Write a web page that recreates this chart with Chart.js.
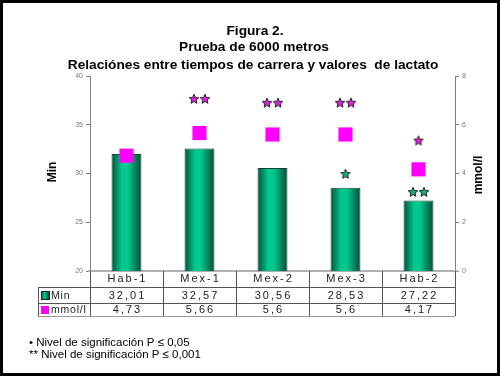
<!DOCTYPE html>
<html>
<head>
<meta charset="utf-8">
<script src="https://cdn.jsdelivr.net/npm/chart.js@4"></script>
<style>
    html, body { margin: 0; padding: 0; background: #fff; }
    canvas { display: block; }
</style>
</head>
<body>
<canvas id="lactato" width="500" height="376"></canvas>
<script>
// datos de la figura
const categorias = ["Hab-1", "Mex-1", "Mex-2", "Mex-3", "Hab-2"];
const tiempos = [32.01, 32.57, 30.56, 28.53, 27.22]; // Min
const lactato = [4.73, 5.66, 5.6, 5.6, 4.17]; // mmol/l
const tiemposTexto = ["32,01", "32,57", "30,56", "28,53", "27,22"];
const lactatoTexto = ["4,73", "5,66", "5,6", "5,6", "4,17"];
const ticksMin = [20, 25, 30, 35, 40];
const ticksMmol = [0, 2, 4, 6, 8];
// marcas de significacion (posicion estimada en la figura)
const sigLactato = [null, 7.06, 6.9, 6.9, 5.35];
const sigLactatoMarcas = ["", "**", "**", "**", "*"];
const sigTiempo = [null, null, null, 29.95, 28.1];
const sigTiempoMarcas = ["", "", "", "*", "**"];

const FONT = "'Liberation Sans', Arial, sans-serif";

// dibuja una o dos estrellas en un canvas pequeno para usar como pointStyle
function estrella(color, n) {
    const c = document.createElement("canvas");
    if (!n) {
        c.width = 1;
        c.height = 1;
        return c;
    }
    const r = 5;
    c.width = n * 11 + 1;
    c.height = 12;
    const g = c.getContext("2d");
    for (let k = 0; k < n; k++) {
        const cx = 6 + k * 11, cy = 6.3;
        g.beginPath();
        for (let i = 0; i < 10; i++) {
            const a = -Math.PI / 2 + i * Math.PI / 5;
            const rr = i % 2 === 0 ? r : r * 0.45;
            const px = cx + rr * Math.cos(a), py = cy + rr * Math.sin(a);
            if (i === 0) g.moveTo(px, py); else g.lineTo(px, py);
        }
        g.closePath();
        g.fillStyle = color;
        g.fill();
        g.lineWidth = 1;
        g.strokeStyle = "#222";
        g.stroke();
    }
    return c;
}

const estrellasLactato = sigLactatoMarcas.map((m) => estrella("#e020e0", m.length));
const estrellasTiempo = sigTiempoMarcas.map((m) => estrella("#10b080", m.length));

function gradienteBarra(context) {
    const chart = context.chart;
    if (!chart.chartArea || !chart.scales.x) return "#00b07a";
    const x = chart.scales.x.getPixelForValue(context.dataIndex);
    const w = 15;
    const g = chart.ctx.createLinearGradient(x - w, 0, x + w, 0);
    g.addColorStop(0, "#0a4f38");
    g.addColorStop(0.35, "#00c88e");
    g.addColorStop(0.55, "#00c88e");
    g.addColorStop(1, "#0a4a35");
    return g;
}

const decorado = {
    id: "decorado",
    beforeDatasetsDraw(chart) {
        const ctx = chart.ctx;
        const ca = chart.chartArea;
        ctx.save();
        ctx.strokeStyle = "#b0b0b0";
        ctx.lineWidth = 2;
        ctx.beginPath();
        ctx.moveTo(ca.left - 2, ca.bottom);
        ctx.lineTo(ca.right + 3, ca.bottom);
        ctx.stroke();
        ctx.restore();
    },
    afterDraw(chart) {
        const ctx = chart.ctx;
        const ca = chart.chartArea;
        const xs = chart.scales.x;
        const colW = xs.getPixelForValue(1) - xs.getPixelForValue(0);
        ctx.save();

        // titulos
        ctx.fillStyle = "#000";
        ctx.textAlign = "center";
        ctx.textBaseline = "middle";
        ctx.font = "bold 13.7px " + FONT;
        ctx.fillText("Figura 2.", 255, 31);
        ctx.fillText("Prueba de 6000 metros", 254, 47);
        ctx.fillText("Relaciónes entre tiempos de carrera y valores  de lactato", 253, 65);

        // titulos de ejes
        ctx.font = "bold 12px " + FONT;
        ctx.save();
        ctx.translate(53, 172);
        ctx.rotate(-Math.PI / 2);
        ctx.fillText("Min", 0, 0);
        ctx.restore();
        ctx.save();
        ctx.translate(479, 175);
        ctx.rotate(-Math.PI / 2);
        ctx.fillText("mmol/l", 0, 0);
        ctx.restore();

        // tabla de datos
        const top = ca.bottom, r1 = 287, r2 = 303, r3 = 316;
        const left = 38;
        const right = xs.getPixelForValue(categorias.length - 1) + colW / 2;
        ctx.strokeStyle = "#555";
        ctx.lineWidth = 1;
        ctx.beginPath();
        [r1, r2].forEach((y) => {
            ctx.moveTo(left, y + 0.5);
            ctx.lineTo(right, y + 0.5);
        });
        ctx.moveTo(left + 0.5, r1);
        ctx.lineTo(left + 0.5, r3);
        for (let i = 0; i <= categorias.length; i++) {
            const x = Math.round(xs.getPixelForValue(0) - colW / 2 + i * colW) + 0.5;
            ctx.moveTo(x, top);
            ctx.lineTo(x, r3);
        }
        ctx.stroke();
        ctx.strokeStyle = "#999";
        ctx.beginPath();
        ctx.moveTo(left, r3 + 0.5);
        ctx.lineTo(right, r3 + 0.5);
        ctx.stroke();

        ctx.font = "11px " + FONT;
        ctx.fillStyle = "#222";
        ctx.letterSpacing = "2px";
        ctx.textAlign = "center";
        categorias.forEach((c, i) => {
            const x = xs.getPixelForValue(i) + 1;
            ctx.fillText(c, x, 279);
            ctx.fillText(tiemposTexto[i], x, 296);
            ctx.fillText(lactatoTexto[i], x, 310);
        });

        // claves de leyenda
        ctx.textAlign = "left";
        const kg = ctx.createLinearGradient(41, 0, 49, 0);
        kg.addColorStop(0, "#0a4f38");
        kg.addColorStop(0.45, "#00c88e");
        kg.addColorStop(1, "#0a4a35");
        ctx.fillStyle = kg;
        ctx.fillRect(41, 291, 8, 8);
        ctx.strokeStyle = "#222";
        ctx.strokeRect(41.5, 291.5, 8, 8);
        ctx.fillStyle = "#ff00ff";
        ctx.fillRect(41, 306, 8, 8);
        ctx.fillStyle = "#222";
        ctx.font = "10.5px " + FONT;
        ctx.letterSpacing = "0.8px";
        ctx.fillText("Min", 51, 296);
        ctx.fillText("mmol/l", 51, 310);

        // notas
        ctx.letterSpacing = "0px";
        ctx.font = "11.5px " + FONT;
        ctx.fillStyle = "#000";
        ctx.fillText("• Nivel de significación P ≤ 0,05", 29, 343);
        ctx.fillText("** Nivel de significación P ≤ 0,001", 29, 355);

        // marco
        ctx.strokeStyle = "#000";
        ctx.lineWidth = 3;
        ctx.strokeRect(1.5, 1.5, 497, 373);
        ctx.restore();
    },
};

const ctx = document.getElementById("lactato").getContext("2d");

new Chart(ctx, {
    data: {
        labels: categorias,
        datasets: [
            {
                type: "line",
                label: "mmol/l",
                data: lactato,
                yAxisID: "y1",
                showLine: false,
                pointStyle: "rect",
                pointRadius: 10,
                pointBackgroundColor: "#ff00ff",
                pointBorderColor: "#ff00ff",
                pointBorderWidth: 0,
                order: 1,
            },
            {
                type: "line",
                label: "sig lactato",
                data: sigLactato,
                yAxisID: "y1",
                showLine: false,
                pointStyle: estrellasLactato,
                order: 0,
            },
            {
                type: "line",
                label: "sig tiempo",
                data: sigTiempo,
                yAxisID: "y",
                showLine: false,
                pointStyle: estrellasTiempo,
                order: 0,
            },
            {
                type: "bar",
                label: "Min",
                data: tiempos,
                yAxisID: "y",
                backgroundColor: gradienteBarra,
                borderColor: "#0b4634",
                borderWidth: 1,
                barPercentage: 0.41,
                categoryPercentage: 1,
                order: 2,
            },
        ],
    },
    options: {
        responsive: false,
        animation: false,
        devicePixelRatio: 1,
        layout: {
            padding: { left: 0, right: 0, top: 76, bottom: 105 },
        },
        scales: {
            x: {
                display: false,
                offset: true,
            },
            y: {
                position: "left",
                min: 20,
                max: 40,
                afterFit: (scale) => { scale.width = 90; },
                afterBuildTicks: (scale) => { scale.ticks = ticksMin.map((v) => ({ value: v })); },
                grid: { drawOnChartArea: false, color: "#808080", tickLength: 4 },
                border: { color: "#808080" },
                ticks: { color: "#777", font: { family: FONT, size: 7 }, padding: 3 },
            },
            y1: {
                position: "right",
                min: 0,
                max: 8,
                afterFit: (scale) => { scale.width = 45; },
                afterBuildTicks: (scale) => { scale.ticks = ticksMmol.map((v) => ({ value: v })); },
                grid: { drawOnChartArea: false, color: "#808080", tickLength: 4 },
                border: { color: "#808080" },
                ticks: { color: "#777", font: { family: FONT, size: 7 }, padding: 3 },
            },
        },
        plugins: {
            legend: { display: false },
            title: { display: false },
            tooltip: { enabled: false },
        },
    },
    plugins: [decorado],
});
</script>
</body>
</html>
